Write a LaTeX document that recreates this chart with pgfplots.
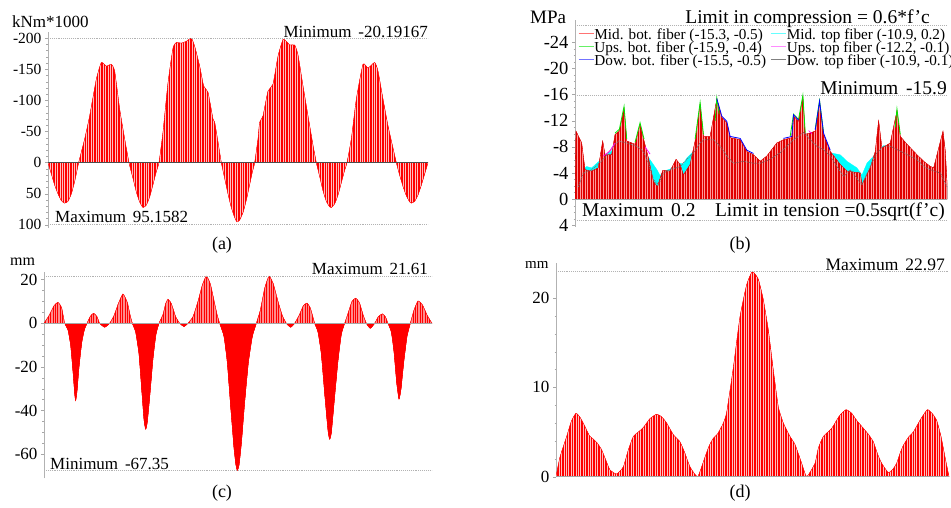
\documentclass[border=0pt]{standalone}
\usepackage{fontspec}
\setmainfont{Liberation Serif}
\usepackage{pgfplots}
\pgfplotsset{compat=1.18}
\usepackage{pgfplotstable}
\usetikzlibrary{patterns.meta}
\newcommand\fs[1]{\fontsize{#1}{#1}\selectfont}
\definecolor{cy}{RGB}{0,255,255}
\definecolor{mg}{RGB}{255,0,255}
\definecolor{gr}{RGB}{0,230,0}
\definecolor{bl}{RGB}{0,0,255}

% (a) bending moment
\pgfplotstableread{
x y
0 0
1 18
2 36
3 50
4 61
5 65
6 62
7 50
8 30
9.2 0
11 -38
12.5 -75
14.5 -134
16 -161
17.5 -155
19 -158
20 -147
21.5 -86
23 -38
24.3 0
25.5 25
26.5 47
27.5 63
28.5 72
29.5 68
30.5 55
31.5 35
32.5 14
33.3 0
34.5 -49
36 -128
37.5 -184
38.5 -193
40 -192
41.5 -195
43 -200
44 -187
45.5 -155
46.7 -123
48 -113
49.5 -70
50 -65
51 -33
52 0
53 25
54 50
55 72
56 88
56.7 95.2
57.5 92
58.5 80
59.5 60
60.5 35
61.3 15
62 0
63 -38
63.5 -65
64.5 -75
66 -115
67.5 -126
69 -171
70.5 -198
71.5 -195
72.5 -189
74 -189
75 -173
76.5 -123
78 -75
79.5 -28
80.5 0
81.5 22
82.5 45
83.5 62
84.5 71
85 72
86 66
87 52
88 32
89 12
89.7 0
91 -38
92.5 -102
94.5 -158
96 -152
98 -161
99 -147
100.5 -102
102 -59
103.3 -28
104.5 0
105.5 20
106.5 38
107.5 53
108.5 63
109 65
110 62
111 52
112 36
113 18
114 0
}\dataA

% (b) stresses
\pgfplotstableread{
x y
0 0
0.3 -10.4
2.0 -8.6
3.0 -4.5
5.0 -4.3
7.0 -4.8
8.3 -8.9
9.0 -6.8
11.0 -6.8
12.0 -9.9
13.3 -10.4
14.7 -13.9
15.5 -8.9
18.0 -8.4
19.5 -11.4
20.7 -8.9
22.0 -6.3
23.5 -2.7
24.7 -1.9
26.3 -4.4
28.5 -4.3
30.3 -6.1
31.5 -5.3
32.5 -3.7
34.5 -5.3
36.0 -8.9
37.5 -14.5
38.5 -9.6
40.5 -9.6
42.5 -15.3
44.0 -12.5
45.5 -11.7
46.5 -9.4
49.5 -9.1
51.5 -7.3
53.5 -6.8
55.5 -5.8
57.5 -6.6
60.5 -8.6
62.5 -9.1
65.0 -9.4
65.5 -12.7
67.0 -11.9
68.3 -15.6
69.0 -9.9
72.0 -10.4
73.3 -14.8
74.5 -9.9
76.5 -7.3
79.5 -5.3
81.5 -4.3
85.5 -4.0
86.0 -2.2
88.5 -4.8
90.0 -7.3
91.0 -12.0
92.0 -7.8
94.5 -8.6
96.5 -13.5
97.5 -9.6
99.5 -8.4
102.5 -6.8
104.5 -5.8
106.5 -5.0
107.5 -4.8
110.3 -10.4
111.0 -7.3
111.5 -2.5
111.5 0
}\dataBred

\pgfplotstableread{
x y
0.5 -2.0
2.5 -4.6
3.5 -5.0
5.0 -4.8
8.5 -6.4
11.0 -7.4
13.0 -9.0
15.5 -8.7
18.5 -8.2
20.5 -7.6
22.0 -6.4
23.5 -5.3
24.7 -4.4
25.5 -3.6
26.5 -4.3
28.5 -4.6
30.5 -5.6
32.5 -5.4
33.5 -6.3
35.5 -7.3
37.5 -8.8
41.5 -9.3
43.5 -8.4
45.5 -6.9
47.5 -5.8
50.5 -6.0
53.5 -5.7
55.5 -5.6
58.5 -6.3
61.5 -7.3
63.5 -8.3
65.5 -9.3
68.5 -10.4
70.5 -9.3
72.5 -8.3
74.5 -7.8
76.5 -7.1
79.5 -6.8
81.5 -5.8
84.5 -4.8
86.0 -3.7
87.5 -5.5
89.5 -6.6
90.5 -7.2
92.5 -8.2
94.5 -8.2
96.5 -7.8
98.5 -7.2
100.5 -6.8
102.5 -6.2
104.5 -5.2
106.5 -4.7
109.5 -4.2
111.5 -2.0
}\dataBcyan

\pgfplotstableread{
x y
1.0 -1.9
2.5 -4.0
5.0 -4.5
8.5 -6.1
11.5 -8.1
13.0 -8.9
15.5 -8.6
18.5 -8.1
20.5 -7.3
22.0 -5.5
23.5 -3.0
25.0 -2.2
26.5 -4.0
28.5 -4.5
31.5 -5.0
33.5 -6.1
35.5 -7.1
37.5 -8.6
38.5 -9.1
41.5 -9.1
43.5 -8.1
45.5 -6.6
47.5 -5.5
50.5 -5.8
53.5 -5.5
55.5 -5.5
58.5 -6.1
61.5 -7.1
63.5 -8.1
65.5 -9.1
67.0 -9.6
68.5 -10.2
70.5 -9.1
72.5 -8.1
74.5 -7.6
76.5 -6.6
78.5 -5.0
80.5 -3.5
82.5 -4.5
86.0 -2.2
88.5 -5.0
90.5 -7.1
92.5 -8.1
94.5 -8.1
96.5 -7.6
98.5 -7.1
100.5 -6.6
102.5 -6.1
104.5 -5.0
106.5 -4.5
109.5 -4.0
111.5 -1.9
}\dataBgray

\pgfplotstableread{
x y
12.0 -10.1
13.3 -10.7
14.7 -14.2
15.5 -9.2
15.6 nan
18.0 -8.7
19.5 -11.7
20.7 -9.2
20.8 nan
36.0 -9.2
37.5 -14.8
38.5 -9.9
38.6 nan
42.0 -12.0
42.5 -15.5
43.2 -13.0
43.3 nan
64.5 -9.6
65.5 -13.0
67.0 -12.2
68.3 -15.9
69.0 -10.2
69.1 nan
72.0 -10.7
73.3 -15.1
74.5 -10.2
74.6 nan
96.0 -11.0
96.5 -13.8
97.5 -9.9
}\dataBgreen

\pgfplotstableread{
x y
42.5 -15.4
44.0 -12.7
45.5 -11.9
46.5 -9.6
49.5 -9.3
51.5 -7.5
53.5 -7.0
53.6 nan
62.5 -9.3
65.0 -9.6
65.5 -12.9
67.0 -12.1
67.1 nan
72.0 -10.6
73.3 -15.0
74.5 -10.1
76.5 -7.5
}\dataBblue

\pgfplotstableread{
x y
8.5 -6.6
10.5 -7.4
12.0 -8.6
12.1 nan
21.0 -8.0
22.5 -6.9
22.6 nan
70.0 -10.5
71.0 -10.0
}\dataBmag

% (c) deflection
\pgfplotstableread{
x y
0 0
1.5 3.5
3 8
4.2 9.6
5.3 7
6.2 0
7.2 -3
8 -10
8.7 -22
9.2 -32
9.5 -35.4
9.9 -31
10.5 -20
11.3 -9
12.1 -3
12.9 0
13.9 3.2
14.9 4.6
15.9 3
16.7 0
18.2 -1.8
19.7 0
21 3.5
22.3 9
23.7 13.4
25 9.5
25.8 4
26.5 0
27.5 -4
28.5 -14
29.3 -30
30 -44
30.5 -48.5
31 -45
31.8 -32
32.7 -16
33.6 -5
34.5 0
35.7 4
36.5 9
37.2 11
38.2 9
39.5 3
40.7 0
42 -1.5
43.2 0
44.7 3
46.2 10
47.5 17.5
48.7 21.6
49.9 18
51.2 9
52 3.5
52.7 0
54 -6
55 -18
56 -38
57 -57
57.6 -65
58 -67.35
58.5 -65
59.2 -55
60.2 -36
61.3 -18
62.5 -6
63.7 0
64.9 6
66.2 16
67.5 21.6
68.8 18
70.2 10
71.5 3.5
72.7 0
74 -1.8
75.2 0
76.5 3.5
77.8 8
78.9 9.2
79.9 7
81.2 0
82.2 -4
83.2 -14
84.2 -32
85.2 -49
85.7 -53.1
86.2 -50
87.1 -35
88.2 -17
89.2 -5
90.2 0
91.3 5
92.4 10
93.5 11.5
94.6 9.5
95.7 4
96.7 0
97.9 -2.3
99.2 0
100.3 3
101.5 4.3
102.4 3
103.2 0
104.2 -4
105 -13
105.8 -27
106.5 -34.7
107.1 -30
107.9 -18
108.9 -6
109.9 0
111 6
112.2 10.2
113.5 8.5
115 3.5
116.4 0
}\dataC

% (d) deflection envelope
\pgfplotstableread{
x y
0 0
1.2 2.2
3.2 4.5
4.6 6.2
6.0 7.1
7.3 6.6
8.7 5.6
10 4.6
11.2 4.2
12.5 3.7
13.7 3.0
15 1.8
16.2 0.75
18.2 0.3
20.2 1.1
21.7 3.0
23.2 4.5
24.7 5.0
26.2 5.5
28.2 6.5
30.2 7.0
31.7 6.7
33.2 6.0
35.2 4.7
37.2 3.9
38.7 2.6
40.2 1.1
42.5 0
44.7 2.2
46 3.5
47.2 4.3
48.5 4.8
50.2 6.0
51.2 7.2
53.2 12.2
55.2 17.9
57.2 21.5
58.9 22.97
60.7 22.1
62.2 19.8
63.7 16.4
65.2 11.9
66.7 7.8
68.2 6.0
70.2 4.5
71.7 3.6
73.7 1.5
75.2 0
77.7 1.5
78.7 3.2
80.2 4.5
82.7 5.4
85 6.8
87 7.5
88.7 7.1
90.2 6.3
92.7 5.2
94 4.6
95.2 3.9
96.5 2.5
97.7 1.5
99.7 0.45
101.2 0.9
102.2 1.5
103.2 2.6
104.2 3.5
105.7 4.4
107.2 5.0
109.5 6.5
111.4 7.5
112.8 7.1
114.2 6.3
115.5 4.5
116.8 2.0
117.9 0
}\dataD

\tikzset{
  refline/.style={gray!60, densely dotted, line width=0.9pt},
  stripe/.style={draw=red, line width=0.3pt, fill=red,
    postaction={pattern={Lines[angle=90,distance=2.4pt,line width=0.7pt]}, pattern color=red!25!white}},
}
\pgfplotsset{
  panel/.style={
    scale only axis,
    axis x line=none,
    axis y line*=left,
    xtick=\empty,
    y axis line style={-, gray!60, line width=0.5pt},
    tick align=outside,
    major tick length=3pt,
    minor tick length=1.5pt,
    every tick/.style={gray!70, line width=0.4pt},
    minor y tick num=4,
  },
}

\begin{document}
\begin{tikzpicture}
\useasboundingbox (0pt,0pt) rectangle (951pt,-507pt);

% ---------------- (a) ----------------
\begin{axis}[panel, at={(48pt,-32pt)}, anchor=north west,
  width=380pt, height=196pt,
  xmin=0, xmax=114, ymin=-210, ymax=105, y dir=reverse,
  ytick={-200,-150,-100,-50,0,50,100},
  yticklabels={-200,-150,-100,-50,0,50,100},
  yticklabel style={font=\fs{15.5}}]
  \addplot[stripe, smooth, tension=0.3] table {\dataA} \closedcycle;
  \draw[refline] (axis cs:0,-200) -- (axis cs:114,-200);
  \draw[refline] (axis cs:0,100) -- (axis cs:114,100);
  \draw[black!70, line width=0.6pt] (axis cs:0,0) -- (axis cs:114,0);
\end{axis}
\node[anchor=west, inner sep=0pt, font=\fs{17}] at (12pt,-22pt) {kNm*1000};
\node[anchor=base east, inner sep=0pt, font=\fs{17}] at (428pt,-37pt) {Minimum\hspace{0.4em}-20.19167};
\node[anchor=base west, inner sep=0pt, font=\fs{17}] at (55pt,-222.5pt) {Maximum\hspace{0.4em}95.1582};
\node[font=\fs{18}] at (222pt,-245pt) {(a)};

% ---------------- (b) ----------------
\begin{axis}[panel, at={(575pt,-20pt)}, anchor=north west,
  width=372pt, height=206.7pt,
  xmin=0, xmax=111.5, ymin=-27.4, ymax=4.2, y dir=reverse,
  ytick={-24,-20,-16,-12,-8,-4,0,4},
  yticklabels={-24,-20,-16,-12,-8,-4,0,4},
  minor y tick num=3,
  yticklabel style={font=\fs{18.5}},
  legend columns=2,
  legend cell align=left,
  legend image code/.code={\draw[#1, line width=0.9pt] (0pt,0.3em) -- (15pt,0.3em);},
  legend style={at={(rel axis cs:0.008,0.955)}, anchor=north west, draw=none, fill=none,
    font=\fs{15.2}, inner sep=0pt, row sep=0pt,
    nodes={inner sep=0.4pt, text height=9.4pt, text depth=2.8pt},
    /tikz/every even column/.append style={column sep=4pt}}]
  \addplot[fill=cy, draw=cy, line width=0.3pt, forget plot] table {\dataBcyan} \closedcycle;
  \addplot[draw=red!85!black, line width=0.3pt, fill=red!88!black,
    postaction={pattern={Lines[angle=90,distance=2.6pt,line width=0.6pt]}, pattern color=red!40!white},
    forget plot] table {\dataBred} \closedcycle;
  \addplot[black!55, densely dotted, line width=0.9pt, forget plot] table {\dataBgray};
  \addplot[mg, line width=0.7pt, unbounded coords=jump, forget plot] table {\dataBmag};
  \addplot[gr, line width=0.8pt, unbounded coords=jump, forget plot] table {\dataBgreen};
  \addplot[bl, line width=0.8pt, unbounded coords=jump, forget plot] table {\dataBblue};
  \draw[refline] (axis cs:0,-26.5) -- (axis cs:111.5,-26.5);
  \draw[refline] (axis cs:0,-15.9) -- (axis cs:111.5,-15.9);
  \draw[refline] (axis cs:0,3.2) -- (axis cs:111.5,3.2);
  \draw[gray!70, line width=0.6pt] (axis cs:0,0) -- (axis cs:111.5,0);
  \addlegendimage{red!55}
  \addlegendentry{Mid. bot. fiber (-15.3, -0.5)}
  \addlegendimage{cy!60}
  \addlegendentry{Mid. top fiber (-10.9, 0.2)}
  \addlegendimage{gr!60}
  \addlegendentry{Ups. bot. fiber (-15.9, -0.4)}
  \addlegendimage{mg!45}
  \addlegendentry{Ups. top fiber (-12.2, -0.1)}
  \addlegendimage{bl!55}
  \addlegendentry{Dow. bot. fiber (-15.5, -0.5)}
  \addlegendimage{gray}
  \addlegendentry{Dow. top fiber (-10.9, -0.1)}
\end{axis}
\node[anchor=west, inner sep=0pt, font=\fs{19}] at (530pt,-17pt) {MPa};
\node[anchor=base east, inner sep=0pt, font=\fs{19.5}] at (930pt,-23.5pt) {Limit in compression = 0.6*f'c};
\node[anchor=base east, inner sep=0pt, font=\fs{19.5}] at (947pt,-94.5pt) {Minimum\hspace{0.4em}-15.9};
\node[anchor=base west, inner sep=0pt, font=\fs{19.5}] at (582pt,-216pt) {Maximum\hspace{0.4em}0.2};
\node[anchor=base east, inner sep=0pt, font=\fs{19.5}] at (945pt,-216.5pt) {Limit in tension =0.5sqrt(f'c)};
\node[font=\fs{18}] at (740pt,-245pt) {(b)};

% ---------------- (c) ----------------
\begin{axis}[panel, at={(44pt,-271.7pt)}, anchor=north west,
  width=388pt, height=206.6pt,
  xmin=0, xmax=116.4, ymin=-71, ymax=23.6,
  ytick={-60,-40,-20,0,20},
  yticklabels={-60,-40,-20,0,20},
  minor y tick num=3,
  yticklabel style={font=\fs{17}}]
  \addplot[draw=red, line width=0.3pt, fill=red!45,
    postaction={pattern={Lines[angle=90,distance=2.4pt,line width=0.6pt]}, pattern color=red},
    smooth, tension=0.3] table {\dataC} \closedcycle;
  \begin{scope}
    \clip (axis cs:0,0) rectangle (axis cs:116.4,-75);
    \addplot[draw=red, fill=red, smooth, tension=0.3] table {\dataC} \closedcycle;
  \end{scope}
  \draw[refline] (axis cs:0,21.61) -- (axis cs:116.4,21.61);
  \draw[refline] (axis cs:0,-67.35) -- (axis cs:116.4,-67.35);
  \draw[gray!70, line width=0.6pt] (axis cs:0,0) -- (axis cs:116.4,0);
\end{axis}
\node[anchor=west, inner sep=0pt, font=\fs{16}] at (10pt,-262pt) {mm};
\node[anchor=base east, inner sep=0pt, font=\fs{17}] at (428pt,-274pt) {Maximum\hspace{0.4em}21.61};
\node[anchor=base west, inner sep=0pt, font=\fs{17}] at (50pt,-469.5pt) {Minimum\hspace{0.4em}-67.35};
\node[font=\fs{18}] at (222pt,-493pt) {(c)};

% ---------------- (d) ----------------
\begin{axis}[panel, at={(556pt,-263.3pt)}, anchor=north west,
  width=393pt, height=213.4pt,
  xmin=0, xmax=117.9, ymin=0, ymax=23.9,
  ytick={0,10,20},
  yticklabels={0,10,20},
  yticklabel style={font=\fs{17}}]
  \addplot[stripe, smooth, tension=0.3] table {\dataD} \closedcycle;
  \draw[refline] (axis cs:0,22.97) -- (axis cs:117.9,22.97);
  \draw[gray!70, line width=0.8pt] (axis cs:0,0) -- (axis cs:117.9,0);
\end{axis}
\node[anchor=west, inner sep=0pt, font=\fs{15}] at (525pt,-265pt) {mm};
\node[anchor=base east, inner sep=0pt, font=\fs{17.5}] at (945pt,-270.5pt) {Maximum\hspace{0.4em}22.97};
\node[font=\fs{18}] at (740pt,-493pt) {(d)};
\end{tikzpicture}
\end{document}
